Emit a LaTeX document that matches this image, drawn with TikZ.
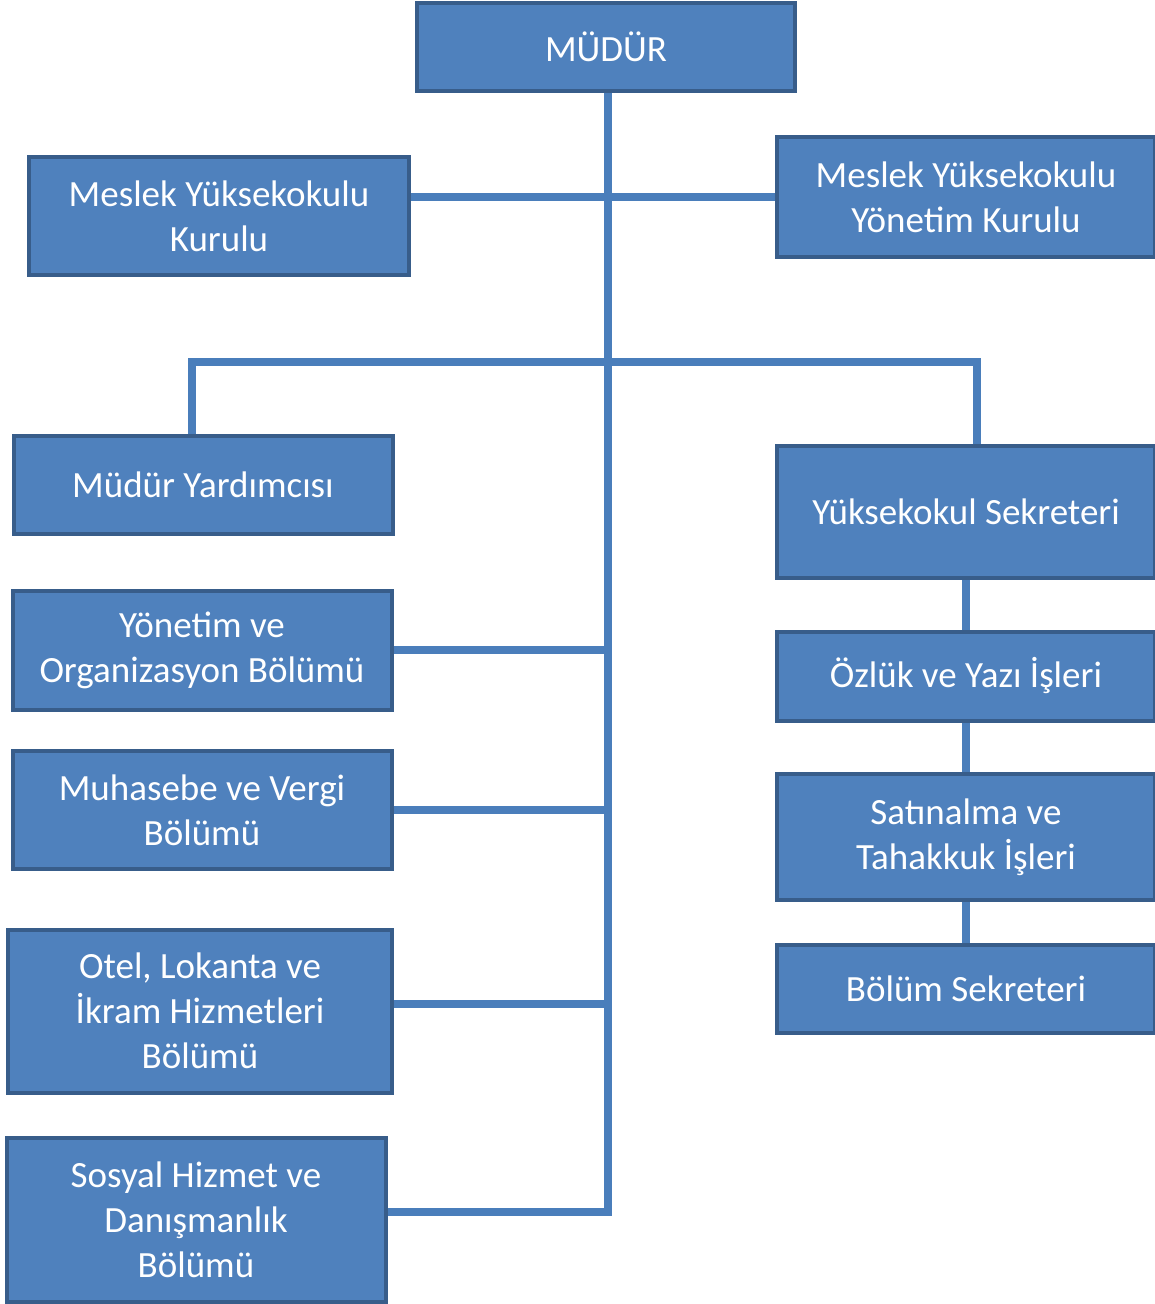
\documentclass[tikz,border=0pt]{standalone}
\usepackage{fontspec}
\setmainfont{Carlito}
\usetikzlibrary{positioning}
\definecolor{kutu}{HTML}{4F81BD}
\definecolor{kenar}{HTML}{385D8A}
\definecolor{hat}{HTML}{4A7EBB}
\begin{document}
\begin{tikzpicture}[x=1pt,y=1pt,
  birim/.style={draw=kenar,line width=4pt,fill=kutu,text=white,align=center,inner sep=0pt,
    font=\fontsize{37}{45}\selectfont},
  bag/.style={draw=hat,line width=8pt}]
\useasboundingbox (0,0) rectangle (1155,-1304);
\node[birim,minimum width=378,minimum height=88] (mudur) at (606,-47) {MÜDÜR};
\node[birim,minimum width=380,minimum height=118] (kurulu) at (219,-216) {Meslek Yüksekokulu\\Kurulu};
\node[birim,minimum width=378,minimum height=120] (ykurulu) at (966,-197) {Meslek Yüksekokulu\\Yönetim Kurulu};
\node[birim,minimum width=379,minimum height=98] (yard) at (203,-485) {Müdür Yardımcısı};
\node[birim,minimum width=379,minimum height=119] (yonetim) at (202,-650) {Yönetim ve\\Organizasyon Bölümü};
\node[birim,minimum width=379,minimum height=118] (muhasebe) at (202,-810) {Muhasebe ve Vergi\\Bölümü};
\node[birim,minimum width=384,minimum height=163] (otel) at (200,-1011) {Otel, Lokanta ve\\İkram Hizmetleri\\Bölümü};
\node[birim,minimum width=379,minimum height=164] (sosyal) at (196,-1220) {Sosyal Hizmet ve\\Danışmanlık\\Bölümü};
\node[birim,minimum width=378,minimum height=132] (sekreter) at (966,-512) {Yüksekokul Sekreteri};
\node[birim,minimum width=378,minimum height=89] (ozluk) at (966,-676) {Özlük ve Yazı İşleri};
\node[birim,minimum width=378,minimum height=126] (satin) at (966,-837) {Satınalma ve\\Tahakkuk İşleri};
\node[birim,minimum width=378,minimum height=88] (bsekreter) at (966,-989) {Bölüm Sekreteri};
\coordinate (bar) at (608,-362);
% ana hat ve dallar
\draw[bag] ([xshift=2]mudur.south) |- ([yshift=8]sosyal.east);
\draw[bag] (kurulu.east |- ykurulu.west) -- (ykurulu.west);
\draw[bag] ([xshift=-11]yard.north) |- (bar) -| ([xshift=11]sekreter.north);
\draw[bag] (yonetim.east) -- (yonetim.east -| bar);
\draw[bag] (muhasebe.east) -- (muhasebe.east -| bar);
\draw[bag] ([yshift=7]otel.east) -- ([yshift=7]otel.east -| bar);
% sekreterlik
\draw[bag] (sekreter.south) -- (ozluk.north);
\draw[bag] (ozluk.south) -- (satin.north);
\draw[bag] (satin.south) -- (bsekreter.north);
\end{tikzpicture}
\end{document}
